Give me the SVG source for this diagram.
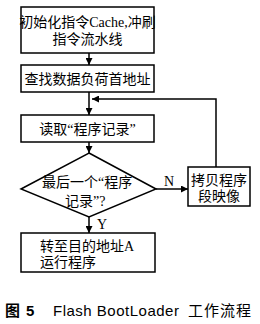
<svg xmlns="http://www.w3.org/2000/svg" width="260" height="324" viewBox="0 0 260 324">
<style>
.b{fill:#fff;stroke:#000;stroke-width:1.5}
.t{font-family:"Liberation Serif","Noto Sans CJK SC",serif;font-size:14px;fill:#000}
.c{fill:none;stroke:#000;stroke-width:1.5}
.cap{font-family:"Liberation Sans","Noto Sans CJK SC",sans-serif;font-size:15px;fill:#000}
</style>
<defs>
<marker id="a" viewBox="0 0 10 10" refX="10" refY="5" markerWidth="7" markerHeight="7" markerUnits="userSpaceOnUse" orient="auto">
<path d="M0,0 L10,5 L0,10 Z" fill="#000"/>
</marker>
</defs>
<rect width="260" height="324" fill="#fff"/>
<g id="connectors">
<line class="c" x1="89" y1="53" x2="89" y2="65" marker-end="url(#a)"/>
<line class="c" x1="89" y1="92" x2="89" y2="115" marker-end="url(#a)"/>
<line class="c" x1="89" y1="142" x2="89" y2="153" marker-end="url(#a)"/>
<line class="c" x1="156" y1="189" x2="188" y2="189" marker-end="url(#a)"/>
<polyline class="c" points="216,167 216,99 92,99" marker-end="url(#a)"/>
<line class="c" x1="89" y1="217" x2="89" y2="233" marker-end="url(#a)"/>
<text class="t" x="164" y="186">N</text>
<text class="t" x="97" y="229">Y</text>
</g>
<g id="n1">
<rect class="b" x="21" y="7" width="133" height="46"/>
<text class="t" x="87.5" y="27" text-anchor="middle">初始化指令Cache,冲刷</text>
<text class="t" x="87.5" y="44" text-anchor="middle">指令流水线</text>
</g>
<g id="n2">
<rect class="b" x="21" y="65" width="133" height="27"/>
<text class="t" x="87.5" y="83.5" text-anchor="middle">查找数据负荷首地址</text>
</g>
<g id="n3">
<rect class="b" x="21" y="115" width="133" height="27"/>
<text class="t" x="87.5" y="133.5" text-anchor="middle">读取“程序记录”</text>
</g>
<g id="n4">
<polygon class="b" points="89,153 156,189 89,217 21,189"/>
<text class="t" x="42" y="187">最后一个“程序</text>
<text class="t" x="65" y="206">记录”?</text>
</g>
<g id="n5">
<rect class="b" x="188" y="167" width="62" height="39"/>
<text class="t" x="219" y="185" text-anchor="middle">拷贝程序</text>
<text class="t" x="219" y="201" text-anchor="middle">段映像</text>
</g>
<g id="n6">
<rect class="b" x="21" y="233" width="134" height="39"/>
<text class="t" x="40" y="251">转至目的地址A</text>
<text class="t" x="40" y="267">运行程序</text>
</g>
<text class="cap" y="316"><tspan x="5" font-weight="bold">图</tspan><tspan x="26" font-weight="bold">5</tspan><tspan x="53" letter-spacing="0.5">Flash BootLoader</tspan><tspan x="188" letter-spacing="1">工作流程</tspan></text>
</svg>
